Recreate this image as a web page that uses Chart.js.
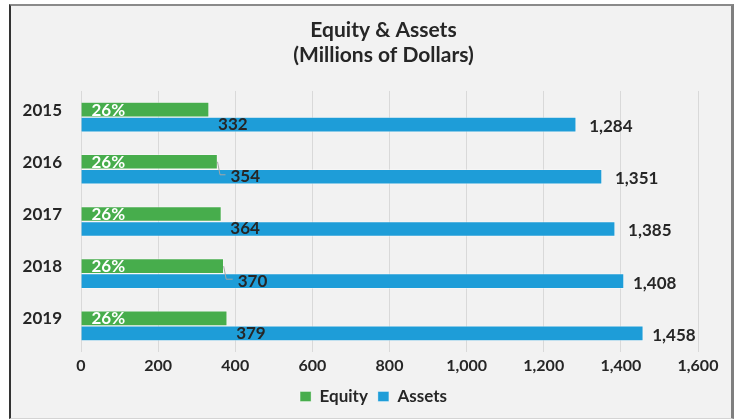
<!DOCTYPE html>
<html><head><meta charset="utf-8">
<script src="https://cdn.jsdelivr.net/npm/chart.js@4"></script>
<style>
html,body{margin:0;padding:0;background:#fff;}
#box{position:absolute;left:9px;top:4px;width:720px;height:412px;background:#f2f2f2;border-top:2px solid #8a8a8a;border-left:2px solid #333;border-right:3px solid #7f7f7f;border-bottom:1px solid #d4d4d4;}
canvas{display:block;}
</style></head><body>
<div id="box"><canvas id="c" width="720" height="412"></canvas></div>
<script>
const years = ['2015', '2016', '2017', '2018', '2019'];
const equity = [332, 354, 364, 370, 379];
const assets = [1284, 1351, 1385, 1408, 1458];
const xMin = 0, xMax = 1600, xStep = 200;
const seriesNames = ['Equity', 'Assets'];

// label nudges (styling only)
const equityNudge = [0, 4, 0, 5, 0];
const assetNudge = [2, 2, 2, -2, -2];

const TXT = '#262626';
const FONT = 'Lato';
const fmt = v => v.toLocaleString('en-US');

const labelPlugin = {
  id: 'barLabels',
  afterLayout(chart) {
    if (chart.titleBlock) { chart.titleBlock.left += 29; chart.titleBlock.right += 29; }
    if (chart.legend) { chart.legend.left += 19; chart.legend.right += 19; }
  },
  afterDatasetsDraw(chart) {
    const ctx = chart.ctx;
    const eqMeta = chart.getDatasetMeta(0), asMeta = chart.getDatasetMeta(1);
    ctx.save();
    ctx.font = 'bold 17px ' + FONT;
    ctx.textBaseline = 'middle';
    ctx.textAlign = 'left';
    eqMeta.data.forEach((bar, i) => {
      const as = asMeta.data[i];
      const pct = Math.round(equity[i] / assets[i] * 100) + '%';
      ctx.fillStyle = '#ffffff';
      ctx.fillText(pct, bar.base + 10, bar.y + 0.5);
      const n = equityNudge[i];
      const lx = bar.x + 9 + n;
      if (n) {
        ctx.strokeStyle = '#a6a6a6';
        ctx.lineWidth = 1;
        ctx.beginPath();
        ctx.moveTo(bar.x, bar.y);
        ctx.lineTo(bar.x + 2.5, as.y - 2);
        ctx.lineTo(lx - 5, as.y - 2);
        ctx.stroke();
      }
      ctx.fillStyle = TXT;
      ctx.fillText(fmt(equity[i]), lx, as.y);
      ctx.fillText(fmt(assets[i]), as.x + 11 + assetNudge[i], as.y + 2);
    });
    ctx.restore();
  }
};

new Chart(document.getElementById('c'), {
  type: 'bar',
  data: {
    labels: years,
    datasets: [
      { label: seriesNames[0], data: equity, backgroundColor: '#47ad4c', borderColor: 'rgba(255,255,255,0.35)', borderWidth: 1, barThickness: 15 },
      { label: seriesNames[1], data: assets, backgroundColor: '#1e9dd8', borderColor: 'rgba(255,255,255,0.35)', borderWidth: 1, barThickness: 15 }
    ]
  },
  options: {
    indexAxis: 'y',
    responsive: false,
    animation: false,
    layout: { padding: { left: 0, right: 33, top: 0, bottom: 3 } },
    plugins: {
      title: {
        display: true,
        text: ['Equity & Assets', '(Millions of Dollars)'],
        color: TXT,
        font: { family: FONT, size: 21, weight: 'bold', lineHeight: 1.19 },
        padding: { top: 11.5, bottom: 23.5 }
      },
      legend: {
        position: 'bottom',
        labels: { color: TXT, font: { family: FONT, size: 17, weight: 'bold' }, boxWidth: 11, boxHeight: 10, padding: 10 }
      },
      tooltip: { enabled: false }
    },
    scales: {
      x: {
        min: xMin, max: xMax,
        ticks: { stepSize: xStep, color: TXT, font: { family: FONT, size: 16, weight: 'bold' }, padding: 4, callback: v => fmt(v) },
        grid: { color: '#d9d9d9', drawTicks: false },
        border: { display: false },
        afterFit: s => { s.height = 26; }
      },
      y: {
        ticks: { color: TXT, font: { family: FONT, size: 17, weight: 'bold' }, padding: 19, labelOffset: -7 },
        grid: { display: false, drawTicks: false },
        border: { display: false },
        afterFit: s => { s.width = 70; }
      }
    }
  },
  plugins: [labelPlugin]
});
</script>
</body></html>
